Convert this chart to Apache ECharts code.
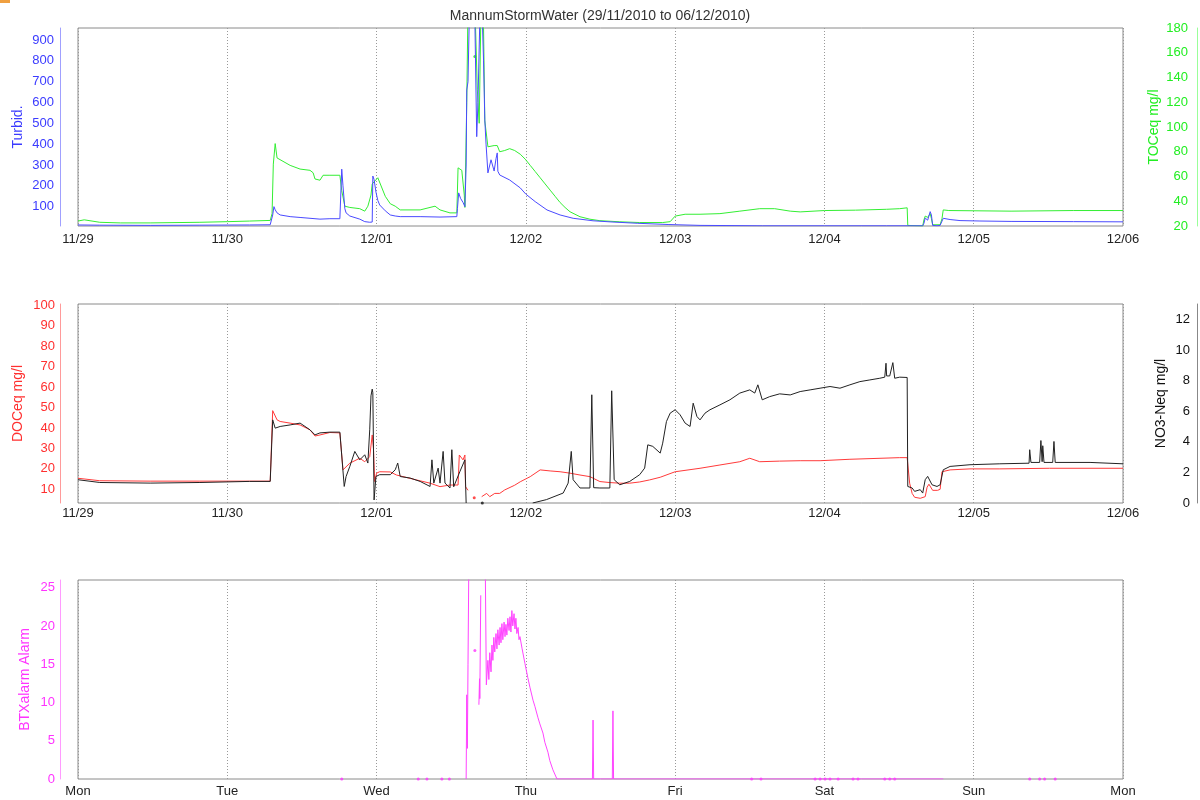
<!DOCTYPE html>
<html>
<head>
<meta charset="utf-8">
<script src="https://cdn.jsdelivr.net/npm/echarts@6/dist/echarts.min.js"></script>
<style>
html,body{margin:0;padding:0;background:#fff;}
#chart{width:1200px;height:800px;}
</style>
</head>
<body>
<div id="chart"></div>
<script>
// ---- tick labels ----
const dateLabels = ['11/29','11/30','12/01','12/02','12/03','12/04','12/05','12/06'];
const dayLabels = ['Mon','Tue','Wed','Thu','Fri','Sat','Sun','Mon'];
const turbidTicks = [100,200,300,400,500,600,700,800,900];
const tocTicks = [20,40,60,80,100,120,140,160,180];
const docTicks = [10,20,30,40,50,60,70,80,90,100];
const no3Ticks = [0,2,4,6,8,10,12];
const btxTicks = [0,5,10,15,20,25];

// ---- series: [hours since 29/11/2010 00:00, value] (null = gap) ----
const turbid = [[0,12],[3.5,11],[11.6,10],[19.6,11],[27.6,12],[30.9,13],[31.2,15],[31.3,60],[31.5,100],[31.7,85],[32.0,70],[32.5,60],[34.1,52],[35.7,48],[37.3,44],[38.9,40],[40.5,42],[42.1,42],[42.3,45],[42.4,280],[42.6,200],[42.9,90],[43.1,70],[43.7,55],[45.3,40],[46.1,28],[46.9,25],[47.3,26],[47.4,247],[47.6,230],[47.9,170],[48.2,130],[48.5,108],[49.4,80],[50.2,60],[51.0,55],[51.8,52],[55.0,52],[58.2,50],[60.9,52],[61.0,90],[61.2,166],[61.5,140],[61.9,120],[62.2,100],[62.4,300],[62.5,660],[62.7,700],[62.9,1000],[63.5,1100],[63.8,1000],[64.1,436],[64.3,600],[64.6,1000],[64.9,1100],[65.2,800],[65.4,517],[65.6,400],[65.9,262],[66.4,325],[66.9,271],[67.2,330],[67.4,358],[67.5,270],[67.8,252],[69.4,228],[71.1,190],[72.0,160],[73.5,124],[75.4,84],[77.5,60],[79.6,44],[82.8,32],[86.0,26],[90,20],[95,14],[100,10],[110,8],[120,8],[130,8],[135.8,8],[136.0,20],[136.2,45],[136.6,35],[137.0,76],[137.2,60],[137.4,10],[138.1,8],[138.6,10],[139.1,44],[140.2,38],[141.8,33],[145,31],[150,29],[160,28],[168,27]];

const toc = [[0,24],[1,25],[3.5,23],[6.8,22.5],[11.6,22.5],[19.6,23],[24,23.5],[27.6,24],[30.9,24.5],[31.2,30],[31.4,70],[31.7,86.6],[32.0,75],[34.1,69],[35.7,66],[37.3,65],[37.8,63],[38.1,58],[38.9,57],[39.4,61],[40.5,61],[42.1,61],[42.3,61],[42.4,48.5],[42.9,36],[43.7,35],[45.3,34],[46.1,32],[46.6,36],[47.1,45],[47.3,54],[48.2,59],[49.4,44],[50.2,38],[51.0,36],[51.8,33],[55.0,33],[57.4,36],[58.2,33],[59.8,30.6],[60.9,30.6],[61.1,67],[61.7,65],[62.1,45],[62.2,35],[62.5,120],[62.7,200],[63.8,200],[64.2,130],[64.5,103],[64.8,200],[65.2,180],[65.4,105],[65.9,84],[66.2,83],[66.9,85],[67.4,85],[67.8,80],[68.6,81],[69.4,82.5],[70.2,81],[71.1,78],[71.9,74],[72.7,69],[73.5,64],[74.3,59],[75.1,54],[75.9,49],[76.7,44],[77.5,39],[78.3,35],[79.1,31.5],[80.7,27.5],[82.3,25.5],[83.9,24.3],[87.1,23.4],[90.3,22.8],[94.0,22.8],[95.2,23.5],[96.0,28],[97.6,29.5],[100,29.5],[103.2,30],[106.4,32],[109.6,34],[112.0,34],[114.5,32],[116.1,31.4],[120,32.5],[125,32.8],[130,33.5],[132.1,34],[133.3,34.7],[133.4,20.5],[135.8,20],[136.0,25],[136.2,28],[136.6,27],[137.0,30],[137.2,26],[137.4,21],[138.6,21],[138.9,26],[139.1,33],[140,32.5],[150,32],[160,32.5],[168,32.5]];
const tocDots = [[63.8,157]];

const doc = [[0,15.4],[3.5,14.2],[11.6,14],[19.6,14],[27.6,14],[30.9,14],[31.2,14.5],[31.3,48.5],[32.0,44],[32.5,43.2],[34.1,42.4],[35.7,41.5],[37.3,39.1],[38.1,36.1],[38.9,36.6],[40.5,37.8],[42.1,37.6],[42.3,37.5],[42.6,19.5],[43.7,22.8],[45.3,25.2],[46.1,23.5],[46.9,26],[47.3,36.6],[47.5,30],[47.7,13.8],[48.0,17.9],[48.5,18.6],[50.2,18.5],[51.2,17],[54.4,14.6],[56.6,13],[58.2,11.3],[59.8,12.1],[61.1,12.1],[61.3,26.8],[61.9,24.4],[62.2,26.8],[62.3,11.3],[62.7,9.5],[62.8,null],[64.9,6.4],[65.7,8],[66.2,6.4],[67.0,8],[67.8,8],[68.6,9.7],[70.2,12],[71.1,13.7],[72.7,16.2],[74.3,19.5],[75.9,19],[77.5,18.6],[79.1,17.9],[80.7,17],[82.3,16.2],[83.9,13.8],[85.5,13.3],[87.1,13],[88.7,13],[90.3,13.6],[91.9,14.6],[93.6,15.9],[96.0,18.6],[100.0,20.3],[103.2,21.9],[106.4,23.5],[108.0,25.2],[109.6,23.5],[112.8,23.8],[116.1,24],[119.3,24],[124.1,24.7],[132.1,25.5],[133.3,25.5],[133.7,13],[134.1,8],[134.5,6.1],[135.4,5.6],[136.2,6.4],[136.5,11],[136.8,12.5],[137.4,9.5],[138.2,9.5],[138.6,10],[138.9,18.6],[140.2,19.5],[143.4,20],[148.2,20],[156.2,20.3],[168,20.3]];
const docDots = [[63.7,5.9]];

const no3 = [[0,1.52],[3.5,1.34],[11.6,1.3],[19.6,1.34],[27.6,1.41],[30.9,1.41],[31.2,1.5],[31.3,5.43],[31.7,4.89],[32.5,5.0],[34.1,5.1],[35.7,5.22],[37.3,4.78],[38.1,4.45],[38.9,4.58],[40.5,4.63],[42.1,4.63],[42.3,4.6],[42.8,1.08],[43.1,1.73],[43.7,2.39],[44.5,3.37],[45.3,2.82],[46.1,3.15],[46.6,2.61],[46.9,4.78],[47.1,7.0],[47.3,7.44],[47.4,7.2],[47.6,0.2],[47.9,1.73],[48.5,1.85],[50.2,1.85],[51.0,2.17],[51.2,2.39],[51.4,2.61],[51.8,1.73],[53.4,1.63],[55.0,1.41],[56.6,1.08],[56.9,2.82],[57.2,1.3],[57.9,2.28],[58.2,1.3],[58.7,3.37],[59.0,1.3],[59.8,0.98],[60.1,3.48],[60.4,1.06],[61.4,2.06],[62.2,2.82],[62.4,0],[62.5,null],[73.1,0],[75.3,0.22],[78.0,0.65],[78.8,1.3],[79.3,3.37],[79.6,1.52],[80.7,0.98],[82.3,0.98],[82.6,7.07],[82.9,1.0],[83.9,0.98],[85.5,0.98],[85.8,7.33],[86.2,1.52],[87.1,1.19],[88.7,1.41],[90.3,1.85],[91.1,2.28],[91.6,3.8],[92.4,3.7],[93.6,3.26],[94.0,3.91],[94.6,5.32],[95.2,5.87],[96.0,6.09],[96.8,5.76],[97.6,5.22],[98.4,5.0],[98.9,6.52],[99.5,5.65],[100.0,5.43],[100.8,5.87],[101.6,6.09],[103.2,6.41],[104.8,6.74],[106.4,7.18],[108.0,7.39],[108.8,7.18],[109.3,7.72],[110.0,6.74],[111.2,6.95],[112.8,7.13],[114.5,7.06],[116.1,7.28],[117.7,7.39],[119.3,7.5],[120.9,7.61],[122.5,7.5],[124.1,7.72],[125.7,7.93],[127.3,8.04],[128.9,8.15],[129.7,8.22],[129.9,9.13],[130.0,8.3],[130.5,8.3],[131.0,9.17],[131.3,8.15],[132.1,8.22],[133.3,8.2],[133.4,1.08],[134.1,0.98],[134.5,0.76],[135.4,0.87],[135.8,0.65],[136.2,1.52],[136.6,1.74],[137.3,1.19],[138.1,1.08],[138.6,1.19],[139.1,2.17],[140.2,2.39],[143.4,2.5],[148.2,2.56],[152.9,2.6],[153.0,3.48],[153.2,2.65],[154.6,2.65],[154.8,4.08],[155.0,2.7],[155.1,3.74],[155.3,2.65],[156.7,2.65],[156.9,4.02],[157.1,2.65],[162.7,2.65],[168,2.56]];
const no3Dots = [[65.0,0]];

const btx = [[62.4,0],[62.5,11],[62.6,4],[62.7,15],[62.85,30],[62.9,null],[64.45,9.7],[64.55,13.1],[64.6,10.5],[64.75,24],[64.85,null],[65.45,30],[65.65,12.3],[65.9,15.5],[66.05,13],[66.2,16.5],[66.4,14],[66.55,17.5],[66.7,15.5],[66.85,18.5],[67.0,16.6],[67.2,19],[67.35,17],[67.5,19.5],[67.7,17.5],[67.85,19.8],[68.0,17.8],[68.15,20.3],[68.3,18.2],[68.5,20.5],[68.65,18.6],[68.8,20.2],[68.95,18.8],[69.1,21],[69.3,19.4],[69.45,21.2],[69.6,19.2],[69.75,22],[69.9,20],[70.1,21.6],[70.25,19.6],[70.4,21],[70.55,19],[70.75,19.8],[70.9,18.2],[71.05,18.6],[71.4,17],[71.85,15.1],[72.3,13.3],[72.65,12],[73.15,10.3],[73.45,9.5],[73.95,8],[74.25,7.2],[74.75,6],[75.05,4.8],[75.55,3.5],[75.85,2.4],[76.35,1.2],[77.0,0],[82.7,0],[82.8,7.7],[82.9,0],[85.9,0],[86.0,8.9],[86.1,0],[139.1,0],[139.2,null]];
const btxDots = [[42.4,0],[54.7,0],[56.1,0],[58.5,0],[59.7,0],[63.8,16.8],[108.3,0],[109.8,0],[118.5,0],[119.3,0],[120.1,0],[120.9,0],[122.2,0],[124.6,0],[125.4,0],[129.7,0],[130.5,0],[131.3,0],[153.0,0],[154.6,0],[155.4,0],[157.1,0]];

// ---- build chart ----
const FONT = 'Liberation Sans, Arial, sans-serif';
const fix = a => a.map(p => [p[0], p[1] === null ? '-' : p[1]]);
const grids = [
  {left:78, right:77, top:28, height:198},
  {left:78, right:77, top:304, height:199},
  {left:78, right:77, top:580, height:199}
].map(g => Object.assign(g, {show:true, borderColor:'#8a8a8a', borderWidth:1, backgroundColor:'transparent', containLabel:false, outerBoundsMode:'none'}));

function xAxis(idx, labels, margin){
  return {
    type:'value', gridIndex:idx, min:0, max:168, interval:24,
    axisLine:{show:false, onZero:false}, axisTick:{show:false},
    axisLabel:{color:'#222', fontSize:13, fontFamily:FONT, margin:margin,
      formatter: v => labels[Math.round(v/24)]},
    splitLine:{show:true, lineStyle:{color:'#999', type:[1,2], width:1}}
  };
}
function yAxis(idx, pos, o){
  const right = pos === 'right';
  return {
    type:'value', gridIndex:idx, position:pos, offset:o.offset,
    min:o.min, max:o.max,
    name:o.name, nameLocation:'middle', nameGap:o.nameGap, nameRotate:90,
    nameMoveOverlap:false,
    nameTextStyle:{color:o.color, fontSize:14, fontFamily:FONT},
    axisLine:{show:true, onZero:false, lineStyle:{color:o.lineColor, width:1}},
    axisTick:{show:false},
    axisLabel:{color:o.color, fontSize:13, fontFamily:FONT, inside:right, margin:o.margin,
      customValues:o.ticks, showMinLabel:true, showMaxLabel:true},
    splitLine:{show:false}
  };
}
function line(name, data, xi, yi, color){
  return {name, type:'line', xAxisIndex:xi, yAxisIndex:yi, data:fix(data),
    showSymbol:false, symbol:'none', connectNulls:false, clip:true,
    lineStyle:{color, width:1}, itemStyle:{color}, animation:false};
}
function dots(name, data, xi, yi, color){
  return {name, type:'scatter', xAxisIndex:xi, yAxisIndex:yi, data,
    symbolSize:3, itemStyle:{color}, animation:false, clip:true};
}

const option = {
  backgroundColor:'#fff',
  animation:false,
  title:{text:'MannumStormWater (29/11/2010 to 06/12/2010)', left:'center', top:4,
    textStyle:{fontSize:14, fontWeight:'normal', color:'#333', fontFamily:FONT}},
  graphic:[{type:'rect', shape:{x:0,y:0,width:10,height:3}, style:{fill:'#f0a040'}}],
  grid:grids,
  xAxis:[xAxis(0,dateLabels,7), xAxis(1,dateLabels,4), xAxis(2,dayLabels,6)],
  yAxis:[
    yAxis(0,'left',{offset:18,min:7,max:958,ticks:turbidTicks,name:'Turbid.',nameGap:35,color:'#3b3bff',lineColor:'#a0a0ff',margin:6}),
    yAxis(0,'right',{offset:74,min:20,max:180,ticks:tocTicks,name:'TOCeq mg/l',nameGap:-50,color:'#22ee22',lineColor:'#99ff99',margin:9}),
    yAxis(1,'left',{offset:18,min:3.3,max:100.7,ticks:docTicks,name:'DOCeq mg/l',nameGap:35,color:'#ff3030',lineColor:'#ff9a9a',margin:5}),
    yAxis(1,'right',{offset:74,min:0,max:13,ticks:no3Ticks,name:'NO3-Neq mg/l',nameGap:-43,color:'#111',lineColor:'#888',margin:7}),
    yAxis(2,'left',{offset:18,min:0,max:26,ticks:btxTicks,name:'BTXalarm Alarm',nameGap:28,color:'#ff33ff',lineColor:'#ff9aff',margin:5})
  ],
  series:[
    line('TOCeq mg/l', toc, 0, 1, '#33ee33'),
    dots('TOCeq dots', tocDots, 0, 1, '#22dd22'),
    line('Turbid.', turbid, 0, 0, '#4a4aff'),
    line('DOCeq mg/l', doc, 1, 2, '#ff3a3a'),
    dots('DOCeq dots', docDots, 1, 2, '#ff2020'),
    line('NO3-Neq mg/l', no3, 1, 3, '#222'),
    dots('NO3 dots', no3Dots, 1, 3, '#111'),
    line('BTXalarm Alarm', btx, 2, 4, '#ff44ff'),
    dots('BTX dots', btxDots, 2, 4, '#ff33ff')
  ]
};
const chart = echarts.init(document.getElementById('chart'), null, {renderer:'canvas'});
chart.setOption(option);
</script>
</body>
</html>
